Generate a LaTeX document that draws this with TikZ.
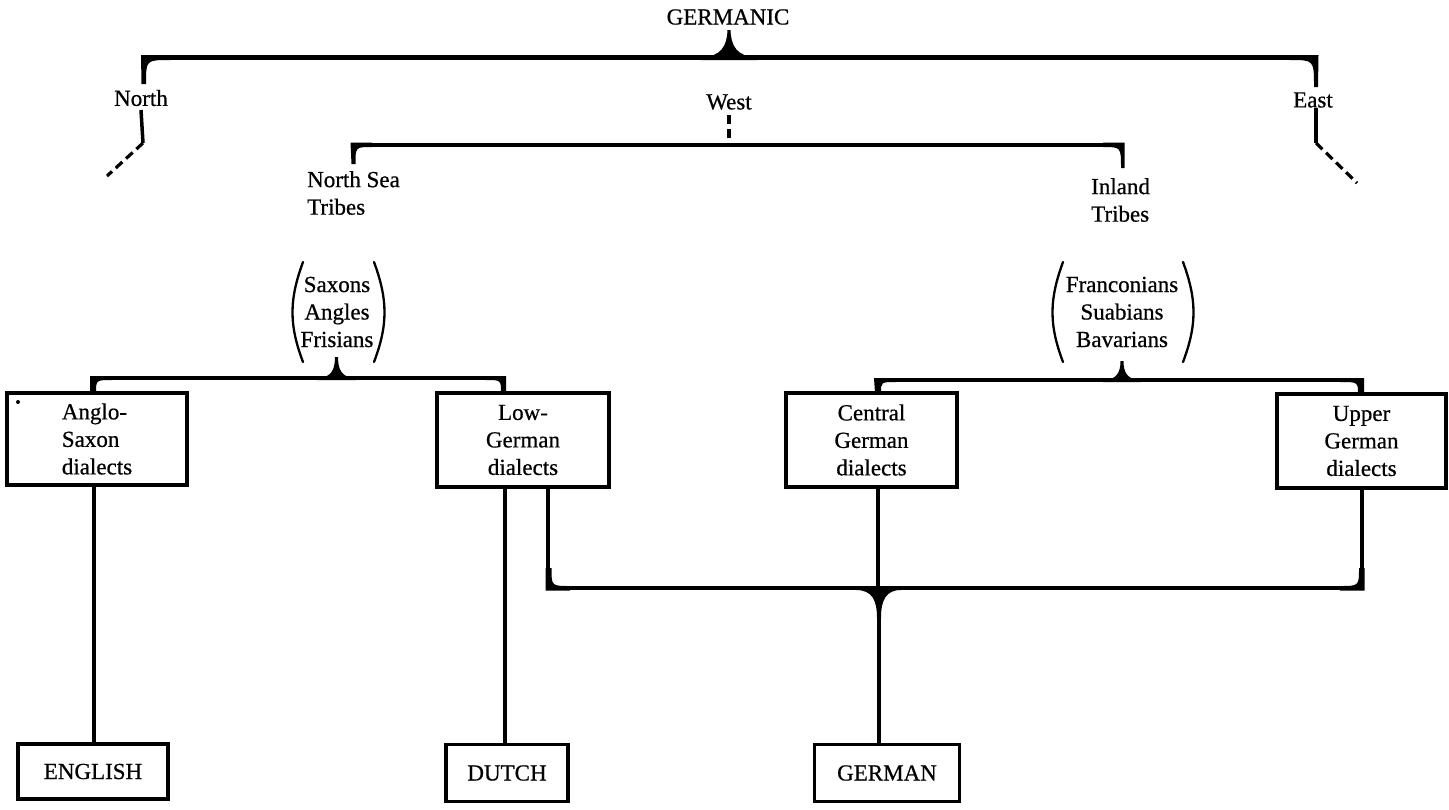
\documentclass[tikz,border=0pt]{standalone}
\usepackage{fontspec}
\setmainfont{Liberation Serif}[FakeBold=0.6]
\newfontfamily\inkfont{Liberation Serif}[FakeBold=0.6]
\begin{document}
\begin{tikzpicture}[x=1pt,y=-1pt,
  lbl/.style={font=\inkfont\fontsize{23}{27.5}\selectfont, inner sep=0pt, text=black},
  box/.style={lbl, draw, line width=3.2pt, align=center},
  conn/.style={line width=3.5pt},
  brk/.style={line width=4.5pt},
  brkthin/.style={line width=4pt},
  dsh/.style={line width=3.2pt, dash pattern=on 9pt off 5pt},
  paren/.style={line width=2.3pt, line cap=round},
  ink/.style={fill=black, draw=none}]
\fill[white] (0,0) rectangle (1449,809);
\useasboundingbox (0,0) rectangle (1449,809);

% ---------- labels ----------
\node[lbl] (germanic) at (728,17) {GERMANIC};
\node[lbl] (north) at (141,98) {North};
\node[lbl] (west) at (729,102) {West};
\node[lbl] (east) at (1313,100) {East};
\node[lbl, align=left, anchor=west] (nst) at (307,193) {North Sea\\Tribes};
\node[lbl, align=left, anchor=west] (inl) at (1091,200) {Inland\\Tribes};
\node[lbl, align=center] (sax) at (337,312) {Saxons\\Angles\\Frisians};
\node[lbl, align=center] (fra) at (1122,312) {Franconians\\Suabians\\Bavarians};

% ---------- boxes ----------
\node[box, minimum width=180pt, minimum height=92pt, align=left] (AS) at (97,439) {Anglo-\\Saxon\\dialects};
\node[box, minimum width=172pt, minimum height=94pt] (LG) at (523,440) {Low-\\German\\dialects};
\node[box, minimum width=171pt, minimum height=94pt] (CG) at (871.5,440) {Central\\German\\dialects};
\node[box, minimum width=169pt, minimum height=94pt] (UG) at (1361.5,441) {Upper\\German\\dialects};
\node[box, minimum width=150pt, minimum height=55pt] (EN) at (93,771.5) {ENGLISH};
\node[box, minimum width=122pt, minimum height=57pt] (DU) at (507,773) {DUTCH};
\node[box, minimum width=145pt, minimum height=57pt] (GE) at (887,773) {GERMAN};
\fill (18,402) circle (2pt);

% ---------- named junction points ----------
\coordinate (topL) at (143,57.5);
\coordinate (topR) at (1316,57.5);
\coordinate (nlow) at (143,143);
\coordinate (nend) at (107,176);
\coordinate (elow) at (1316,143);
\coordinate (eend) at (1357,183);
\coordinate (wtop) at (729,115);
\coordinate (wbot) at (729,145);
\coordinate (midL) at (353,145);
\coordinate (midR) at (1122,145);
\coordinate (sxL) at (93,378);
\coordinate (sxR) at (503,378);
\coordinate (frL) at (878,380);
\coordinate (frR) at (1361,380);
\coordinate (gL) at (548,588);
\coordinate (gR) at (1362,588);
\coordinate (gtip) at (879,616);
\coordinate (asx) at (94,0);
\coordinate (lgx) at (505,0);

% ---------- top bracket ----------
\draw[brk] (topL) -- (topR);
\fill[ink] (141,55) -- (170,55) -- (170,60) .. controls (146,60) .. (146,84) -- (141.5,84) -- cycle;
\fill[ink] (1318.5,55) -- (1290,55) -- (1290,60) .. controls (1314,60) .. (1314,87) -- (1318,87) -- cycle;
\fill[ink] (701,60) -- (701,57) .. controls (721,57) and (727,46) .. (727.5,30) -- (730.5,30) .. controls (731,46) and (737,57) .. (757,57) -- (757,60) -- cycle;
\draw[conn] (north.south |- 0,110) -- (nlow);
\draw[dsh] (nlow) -- (nend);
\draw[conn] (east.south -| elow) -- (elow);
\draw[dsh] (elow) -- (eend);

% ---------- West bracket ----------
\draw[dsh] (wtop) -- (wbot);
\draw[brk] (midL) -- (midR);
\fill[ink] (350.5,142.5) -- (372,142.5) -- (372,147) .. controls (355.5,147) .. (355.5,164) -- (351.5,164) -- cycle;
\fill[ink] (1124.5,142.5) -- (1103,142.5) -- (1103,147) .. controls (1121,147) .. (1121,168) -- (1124.5,168) -- cycle;

% ---------- parentheses ----------
\draw[paren] (303,262) .. controls (289,300) and (289,325) .. (303,362);
\draw[paren] (374,262) .. controls (388,300) and (388,325) .. (374,362);
\draw[paren] (1063,262) .. controls (1049,300) and (1049,325) .. (1063,362);
\draw[paren] (1183,262) .. controls (1197,300) and (1197,325) .. (1183,362);

% ---------- Saxons bracket ----------
\draw[brkthin] (sxL) -- (sxR);
\fill[ink] (90,376) -- (112,376) -- (112,380) .. controls (96,380) .. (96,393) -- (90,393) -- cycle;
\fill[ink] (506,376) -- (486,376) -- (486,380) .. controls (501,380) .. (501,393) -- (506,393) -- cycle;
\fill[ink] (317,380) -- (317,378) .. controls (331,378) and (335,370) .. (335,357) -- (338,357) .. controls (338,370) and (342,378) .. (356,378) -- (356,380) -- cycle;

% ---------- Franconians bracket ----------
\draw[brkthin] (frL) -- (frR);
\fill[ink] (874,378) -- (896,378) -- (896,382) .. controls (881,382) .. (881,393) -- (875,393) -- cycle;
\fill[ink] (1364,378) -- (1340,378) -- (1340,382) .. controls (1358,382) .. (1358,394) -- (1364,394) -- cycle;
\fill[ink] (1103,382) -- (1103,380) .. controls (1117,380) and (1120.5,372) .. (1120.5,361) -- (1123.5,361) .. controls (1123.5,372) and (1127,380) .. (1141,380) -- (1141,382) -- cycle;

% ---------- German bracket ----------
\draw[conn] (LG.south -| gL) -- (gL);
\draw[conn] (CG.south -| frL) -- (frL |- gL);
\draw[conn] (UG.south -| gR) -- (gR);
\draw[brk] (gL) -- (gR);
\fill[ink] (545.5,590.5) -- (570,590.5) -- (570,586) .. controls (551.5,586) .. (551.5,568) -- (545.5,568) -- cycle;
\fill[ink] (1364.5,590.5) -- (1340,590.5) -- (1340,586) .. controls (1359,586) .. (1359,568) -- (1364.5,568) -- cycle;
\fill[ink] (856,586) -- (856,590) .. controls (872,590) and (877,600) .. (877,618) -- (881,618) .. controls (881,600) and (886,590) .. (901,590) -- (901,586) -- cycle;

% ---------- descents to languages ----------
\draw[conn] (AS.south -| asx) -- (EN.north -| asx);
\draw[conn] (LG.south -| lgx) -- (DU.north -| lgx);
\draw[conn] (gtip) -- (GE.north -| gtip);
\end{tikzpicture}
\end{document}
